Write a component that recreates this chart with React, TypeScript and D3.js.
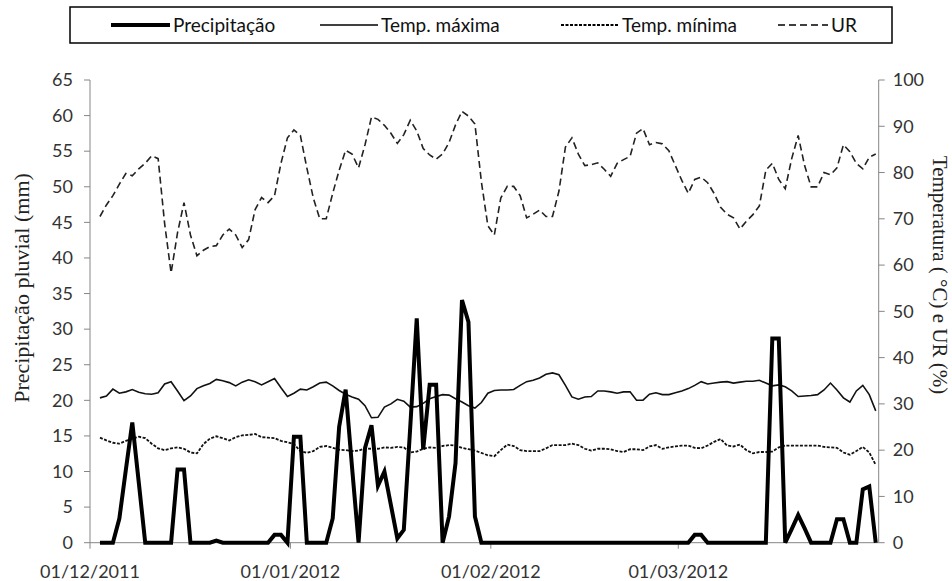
import React, { useEffect, useRef } from "react";
import * as d3 from "d3";

// daily series, first day 02/12/2011
const startDate = new Date(2011, 11, 2, 13);

const precipitacao = [
  0, 0, 0, 3.4, 10.2, 16.9, 8.5, 0, 0, 0,
  0, 0, 10.3, 10.3, 0, 0, 0, 0, 0.3, 0,
  0, 0, 0, 0, 0, 0, 0, 1.1, 1.1, 0,
  14.9, 14.9, 0, 0, 0, 0, 3.4, 16.3, 21.5, 10.5,
  0, 13.3, 16.5, 8, 10, 5.3, 0.6, 1.8, 16.3, 31.5,
  13.1, 22.2, 22.2, 0, 3.7, 11.2, 34.1, 31, 3.7, 0,
  0, 0, 0, 0, 0, 0, 0, 0, 0, 0,
  0, 0, 0, 0, 0, 0, 0, 0, 0, 0,
  0, 0, 0, 0, 0, 0, 0, 0, 0, 0,
  0, 0, 1.1, 1.1, 0, 0, 0, 0, 0, 0,
  0, 0, 0, 0, 28.7, 28.7, 0, 1.9, 3.9, 2,
  0, 0, 0, 0, 3.3, 3.3, 0, 0, 7.5, 7.9,
  0,
];

const tempMaxima = [
  31.3, 31.7, 33.2, 32.3, 32.6, 33.1, 32.5, 32.2, 32.1, 32.4,
  34.3, 34.8, 32.8, 30.7, 31.7, 33.3, 33.9, 34.4, 35.3, 35,
  34.6, 33.9, 34.7, 35.2, 34.8, 34.1, 34.8, 35.5, 33.5, 31.6,
  32.3, 33.2, 33, 33.7, 34.5, 34.7, 33.9, 32.9, 32.1, 31.5,
  31, 29.6, 27, 27.1, 29.3, 30, 31, 30.6, 29.3, 29.4,
  30.1, 31.1, 31.6, 32, 31.9, 31.1, 30.4, 29.6, 29.1, 30.3,
  32.3, 32.9, 33, 33, 33.1, 34, 34.8, 35.1, 35.6, 36.4,
  36.7, 36.3, 34, 31.5, 31, 31.5, 31.6, 32.8, 32.8, 32.6,
  32.3, 32.6, 32.6, 30.8, 30.8, 32.1, 32.4, 32, 32, 32.4,
  32.8, 33.3, 34, 34.8, 34.3, 34.5, 34.7, 34.8, 34.5, 34.7,
  34.9, 34.9, 35.1, 34.5, 33.9, 34.1, 33.7, 32.8, 31.6, 31.7,
  31.8, 32, 33, 34.5, 33, 31.3, 30.4, 32.8, 34, 32,
  28.5,
];

const tempMinima = [
  22.7, 22.1, 21.6, 21.4, 22, 22.5, 22.9, 22.6, 21.4, 20.4,
  20, 20.4, 20.6, 20.3, 19.5, 19.3, 21.3, 22.5, 23, 22.6,
  22.1, 22.8, 23.2, 23.3, 23.5, 22.8, 22.7, 22.6, 22, 21.7,
  21.3, 19.8, 19.4, 19.8, 20.7, 20.9, 20.5, 20.1, 20, 19.8,
  19.9, 20.4, 20.3, 20.3, 20.6, 20.5, 20.7, 20.6, 19.5, 19.7,
  20.3, 20.6, 20.5, 20.9, 21.1, 21, 20.5, 20.2, 19.9, 19.4,
  18.9, 18.7, 20, 21.2, 20.9, 20, 19.8, 19.8, 19.8, 20.4,
  21.1, 21.1, 21.1, 21.4, 21.1, 20.3, 19.9, 20.3, 20.3, 20.2,
  19.8, 19.6, 20.2, 20.2, 20, 20.8, 21.1, 20.3, 20.6, 20.8,
  21, 21, 20.5, 20.4, 21, 21.8, 22.4, 21, 20.8, 21.2,
  20, 19.3, 19.6, 19.6, 19.7, 20.6, 21, 21, 21, 21,
  21, 21, 20.7, 20.6, 20.5, 19.5, 19, 19.8, 20.7, 19.5,
  16.8,
];

const umidade = [
  70.5, 73, 75, 77.5, 79.8, 79.3, 80.8, 82, 83.6, 83,
  69, 58.3, 67, 73.5, 66.5, 62, 63.2, 64, 64.2, 66.5,
  67.8, 66.5, 63.8, 65.5, 72, 74.6, 73.5, 75, 82, 87.5,
  89.2, 88, 81, 74.5, 70, 70, 75.5, 80.5, 84.8, 84,
  81, 86, 92, 91.5, 90.2, 88.5, 86.3, 88.2, 91.3, 89,
  85.2, 83.8, 82.9, 84, 86.5, 90.3, 93.2, 92.2, 90.5, 78,
  68.5, 66.5, 74.5, 77, 77, 75, 70.2, 71, 71.9, 70.5,
  70.5, 76, 85.5, 87.5, 84, 81.5, 81.7, 82.1, 80.7, 79.2,
  82, 82.8, 83.5, 88.5, 89.5, 86, 86.5, 86.2, 84.7, 81.5,
  78.3, 75.5, 78.5, 79, 77.8, 75.5, 72.5, 71, 70.2, 67.8,
  69.5, 70.9, 72.8, 80.5, 82, 78.5, 76.5, 83, 88, 81.5,
  76.9, 76.9, 80, 79.5, 81, 86, 84.5, 82, 80.8, 83.3,
  84,
];

const precipTicks = [0, 5, 10, 15, 20, 25, 30, 35, 40, 45, 50, 55, 60, 65];
const rightTicks = [0, 10, 20, 30, 40, 50, 60, 70, 80, 90, 100];
const monthTicks = [
  new Date(2011, 11, 1),
  new Date(2012, 0, 1),
  new Date(2012, 1, 1),
  new Date(2012, 2, 1),
];
const monthLabels = ["01/12/2011", "01/01/2012", "01/02/2012", "01/03/2012"];

const legendItems = [
  { label: "Precipitação", width: 4, dash: null, x: 111, len: 59 },
  { label: "Temp. máxima", width: 1.6, dash: null, x: 320, len: 58 },
  { label: "Temp. mínima", width: 1.8, dash: "3,1.5", x: 561, len: 58 },
  { label: "UR", width: 1.6, dash: "7,4", x: 778, len: 50 },
];

const W = 952;
const H = 581;
const sansFont = "Lato, 'Open Sans', sans-serif";
const serifFont = "'Liberation Serif', 'DejaVu Serif', serif";

export default function App() {
  const ref = useRef<SVGSVGElement>(null);

  useEffect(() => {
    document.body.style.margin = "0";
    const svg = d3.select(ref.current);
    svg.selectAll("*").remove();

    const left = 90, right = 878.7, top = 80, bottom = 542.7;
    const axisColor = "#868686";

    const dates = precipitacao.map((_, i) => d3.timeDay.offset(startDate, i));

    const x = d3
      .scaleTime()
      .domain([new Date(2011, 11, 1), new Date(2012, 3, 1)])
      .range([left, right]);
    const yLeft = d3.scaleLinear().domain([0, 65]).range([bottom, top]);
    const yRight = d3.scaleLinear().domain([0, 100]).range([bottom, top]);

    const g = svg.append("g");

    // axes lines
    g.append("line")
      .attr("x1", left).attr("x2", left).attr("y1", top).attr("y2", bottom)
      .attr("stroke", axisColor);
    g.append("line")
      .attr("x1", right).attr("x2", right).attr("y1", top).attr("y2", bottom)
      .attr("stroke", axisColor);
    g.append("line")
      .attr("x1", left).attr("x2", right).attr("y1", bottom).attr("y2", bottom)
      .attr("stroke", axisColor);

    // left ticks
    const lt = g.selectAll(".lt").data(precipTicks).join("g").attr("class", "lt");
    lt.append("line")
      .attr("x1", left - 6).attr("x2", left)
      .attr("y1", (d) => yLeft(d)).attr("y2", (d) => yLeft(d))
      .attr("stroke", axisColor);
    lt.append("text")
      .attr("x", left - 17)
      .attr("y", (d) => yLeft(d))
      .attr("dy", "0.35em")
      .attr("text-anchor", "end")
      .attr("font-family", sansFont)
      .attr("font-size", 18)
      .attr("fill", "#333")
      .text((d) => d);

    // right ticks
    const rt = g.selectAll(".rt").data(rightTicks).join("g").attr("class", "rt");
    rt.append("line")
      .attr("x1", right).attr("x2", right + 6)
      .attr("y1", (d) => yRight(d)).attr("y2", (d) => yRight(d))
      .attr("stroke", axisColor);
    rt.append("text")
      .attr("x", right + 14)
      .attr("y", (d) => yRight(d))
      .attr("dy", "0.35em")
      .attr("text-anchor", "start")
      .attr("font-family", sansFont)
      .attr("font-size", 18)
      .attr("fill", "#333")
      .text((d) => d);

    // x ticks
    const xt = g.selectAll(".xt").data(monthTicks).join("g").attr("class", "xt");
    xt.append("line")
      .attr("x1", (d) => x(d)).attr("x2", (d) => x(d))
      .attr("y1", bottom).attr("y2", bottom + 6)
      .attr("stroke", axisColor);
    xt.append("text")
      .attr("x", (d) => x(d))
      .attr("y", bottom + 35)
      .attr("text-anchor", "middle")
      .attr("font-family", sansFont)
      .attr("font-size", 18)
      .attr("fill", "#333")
      .text((d, i) => monthLabels[i]);

    // axis titles
    g.append("text")
      .attr("transform", `translate(29, 288) rotate(-90)`)
      .attr("text-anchor", "middle")
      .attr("font-family", serifFont)
      .attr("font-size", 22)
      .attr("fill", "#222")
      .text("Precipitação pluvial (mm)");
    g.append("text")
      .attr("transform", `translate(933, 275) rotate(90)`)
      .attr("text-anchor", "middle")
      .attr("font-family", serifFont)
      .attr("font-size", 21)
      .attr("fill", "#222")
      .text("Temperatura ( °C) e UR (%)");

    const lineLeft = d3
      .line<number>()
      .x((d, i) => x(dates[i]))
      .y((d) => yLeft(d));
    const lineRight = d3
      .line<number>()
      .x((d, i) => x(dates[i]))
      .y((d) => yRight(d));

    g.append("path")
      .datum(umidade)
      .attr("d", lineRight)
      .attr("fill", "none")
      .attr("stroke", "#222")
      .attr("stroke-width", 1.6)
      .attr("stroke-dasharray", "7,4");

    g.append("path")
      .datum(tempMinima)
      .attr("d", lineRight)
      .attr("fill", "none")
      .attr("stroke", "#111")
      .attr("stroke-width", 1.8)
      .attr("stroke-dasharray", "3,1.5");

    g.append("path")
      .datum(tempMaxima)
      .attr("d", lineRight)
      .attr("fill", "none")
      .attr("stroke", "#111")
      .attr("stroke-width", 1.6);

    g.append("path")
      .datum(precipitacao)
      .attr("d", lineLeft)
      .attr("fill", "none")
      .attr("stroke", "#000")
      .attr("stroke-width", 4)
      .attr("stroke-linejoin", "miter");

    // legend
    const lg = svg.append("g");
    lg.append("rect")
      .attr("x", 70).attr("y", 7).attr("width", 822).attr("height", 36)
      .attr("fill", "#fff")
      .attr("stroke", "#000")
      .attr("stroke-width", 1.5);
    const items = lg.selectAll(".li").data(legendItems).join("g").attr("class", "li");
    items.append("line")
      .attr("x1", (d) => d.x).attr("x2", (d) => d.x + d.len)
      .attr("y1", 25).attr("y2", 25)
      .attr("stroke", "#000")
      .attr("stroke-width", (d) => d.width)
      .attr("stroke-dasharray", (d) => d.dash);
    items.append("text")
      .attr("x", (d) => d.x + d.len + 3)
      .attr("y", 25)
      .attr("dy", "0.35em")
      .attr("font-family", sansFont)
      .attr("font-size", 19)
      .attr("fill", "#111")
      .text((d) => d.label);
  }, []);

  return <svg ref={ref} width={W} height={H} style={{ display: "block" }} />;
}
